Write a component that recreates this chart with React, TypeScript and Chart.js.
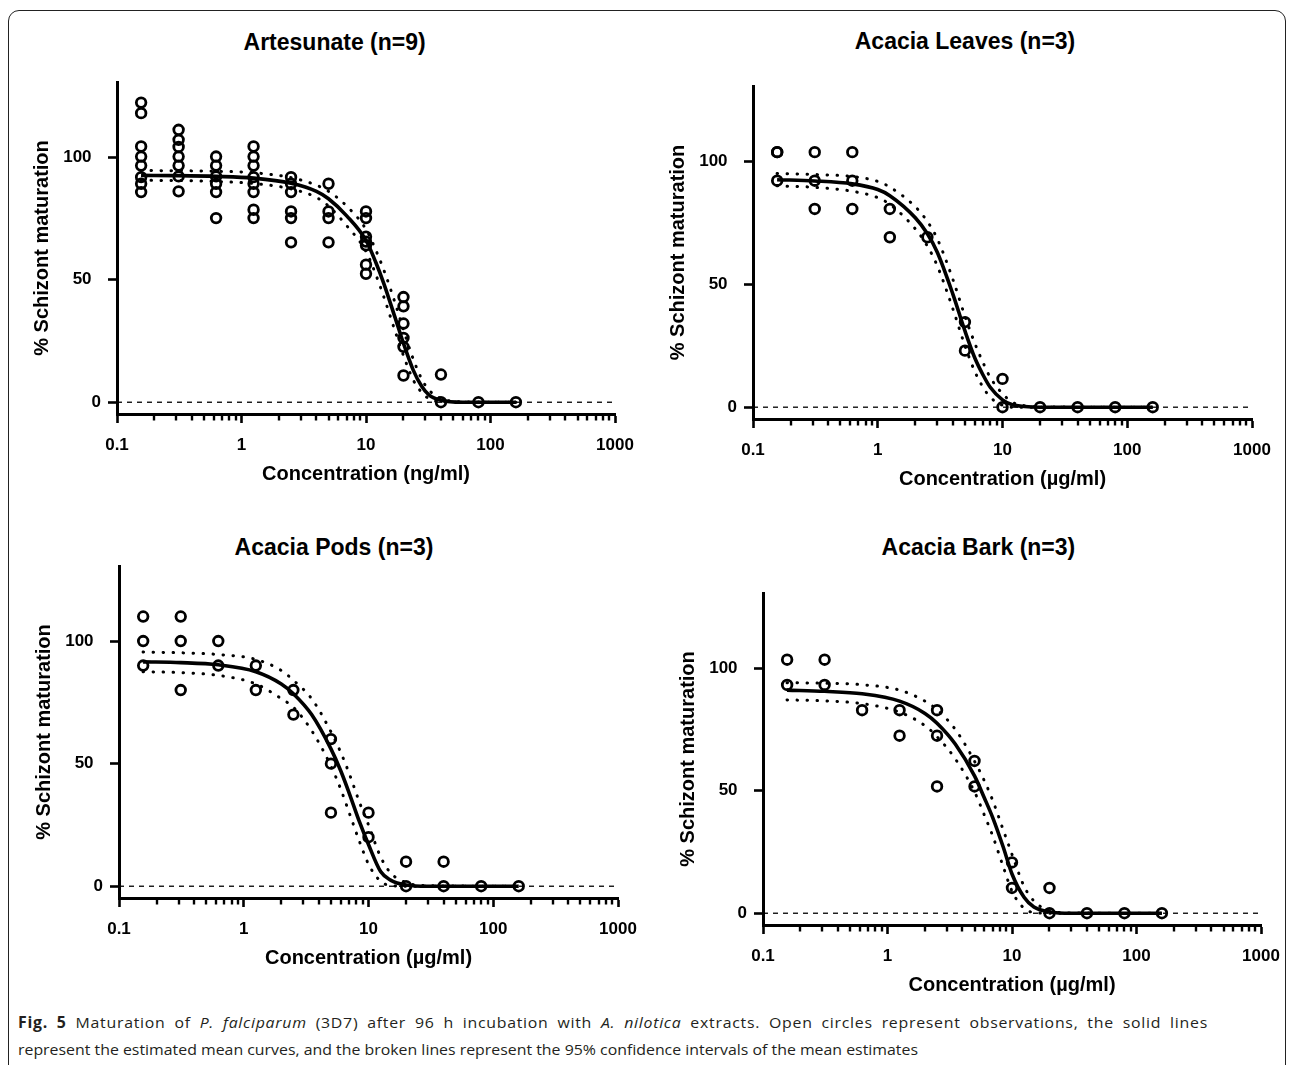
import React, { useEffect, useLayoutEffect, useRef } from 'react';
import { Chart, registerables } from 'chart.js';

Chart.register(...registerables);

// ---------------- data ----------------
const CONC = [0.15625, 0.3125, 0.625, 1.25, 2.5, 5, 10, 20, 40, 80, 160];

const X_MAJOR = [0.1, 1, 10, 100, 1000];
const X_TICK_LABELS = ['0.1', '1', '10', '100', '1000'];
const X_MINOR_MULT = [2, 3, 4, 5, 6, 7, 8, 9];
const Y_TICKS = [0, 50, 100];
const Y_TICK_LABELS = ['0', '50', '100'];

const TITLES = ['Artesunate (n=9)', 'Acacia Leaves (n=3)', 'Acacia Pods (n=3)', 'Acacia Bark (n=3)'];
const X_TITLES = ['Concentration (ng/ml)', 'Concentration (µg/ml)', 'Concentration (µg/ml)', 'Concentration (µg/ml)'];
const Y_TITLE = '% Schizont maturation';

// Artesunate observations, one list per concentration
const ART_OBS = [
  [122.2, 117.9, 104.3, 100.2, 96.5, 91.8, 89.1, 85.7],
  [111.1, 107.0, 104.1, 100.2, 96.5, 92.1, 86.0],
  [100.2, 96.5, 92.1, 89.1, 85.7, 75.1],
  [104.3, 100.2, 96.5, 91.8, 89.1, 85.7, 78.5, 75.1],
  [91.8, 89.1, 85.7, 77.8, 75.1, 65.2],
  [89.1, 77.8, 75.1, 65.2],
  [77.8, 75.1, 67.5, 65.5, 64, 56.1, 52.4],
  [42.9, 39.1, 32.1, 26.2, 22.6, 10.9],
  [11.3, 0],
  [0],
  [0],
];
const ART_CURVE_X = [0.156, 0.3125, 0.625, 1.25, 2.5, 4, 5, 7, 10, 12, 14, 17, 20, 24, 28, 32, 40, 60, 160];
const ART_FIT = [92.5, 92.4, 92.1, 91.4, 89.3, 86, 83, 76, 66, 57, 48, 35, 24, 13, 6.5, 3, 0.8, 0, 0];
const ART_UPPER = [94.5, 94.4, 94.2, 93.6, 91.6, 88.5, 86, 80, 70.5, 62, 53.5, 41, 29.5, 17.5, 9.5, 5, 1.5, 0.2, 0];
const ART_LOWER = [90.5, 90.4, 90, 89.2, 87, 83.5, 80, 72, 61.5, 52, 42.5, 29.5, 19, 9, 4, 1.5, 0.2, 0, 0];

// Acacia leaves
const LEAVES_OBS = [
  [103.7, 103.7, 92.1],
  [103.7, 92.1, 80.6],
  [103.7, 92.1, 80.6],
  [80.6, 69.1],
  [69.1],
  [34.6, 23.0],
  [11.5, 0],
  [0],
  [0],
  [0],
  [0],
];
const LEAVES_CURVE_X = [0.156, 0.3125, 0.625, 1, 1.25, 2, 2.5, 3, 4, 5, 6, 7, 8, 10, 12, 15, 20, 160];
const LEAVES_FIT = [92.5, 92, 90.8, 88.5, 86, 77, 70.5, 63, 46, 31, 20, 13, 8, 3, 1, 0.3, 0, 0];
const LEAVES_UPPER = [95, 94.6, 93.8, 91.8, 89.5, 81.5, 75.5, 68.5, 52, 37, 26, 18, 12, 5.5, 2, 0.6, 0.1, 0];
const LEAVES_LOWER = [90, 89.4, 87.8, 85.2, 82.5, 72.5, 65.5, 57.5, 40, 25, 14.5, 8, 4, 0.8, 0, 0, 0, 0];

// Acacia pods
const PODS_OBS = [
  [110, 100, 90],
  [110, 100, 80],
  [100, 90],
  [90, 80],
  [80, 70],
  [60, 50, 30],
  [30, 20],
  [10, 0],
  [10, 0],
  [0],
  [0],
];
const PODS_CURVE_X = [0.156, 0.3125, 0.625, 1.25, 2, 2.5, 3.5, 5, 6, 7, 8.5, 10, 12.5, 15, 20, 30, 160];
const PODS_FIT = [91.5, 91.2, 90.3, 87.5, 82.5, 78.5, 70, 56, 47, 38, 26, 17, 6, 2.5, 0.5, 0, 0];
const PODS_UPPER = [95.5, 95.2, 94.5, 92.5, 88, 84, 76.5, 63, 54.5, 46, 34, 25, 12, 5.5, 1.5, 0.2, 0];
const PODS_LOWER = [87.5, 87.1, 86, 82.5, 76.5, 73, 63.5, 49, 39.5, 30, 18, 9, 2, 0.3, 0, 0, 0];

// Acacia bark
const BARK_OBS = [
  [103.4, 93.1],
  [103.4, 93.1],
  [82.8],
  [82.8, 72.4],
  [82.8, 72.4, 51.7],
  [62.1, 51.7],
  [20.7, 10.3],
  [10.3, 0],
  [0],
  [0],
  [0],
];
const BARK_CURVE_X = [0.156, 0.3125, 0.625, 1.25, 2, 2.5, 3.5, 5, 6, 7, 8.5, 10, 12.5, 15, 20, 30, 160];
const BARK_FIT = [91, 90.5, 89.5, 86.5, 81.5, 77.5, 69, 56, 47, 39, 27, 16, 6.5, 2.5, 0.5, 0, 0];
const BARK_UPPER = [94, 93.8, 93.2, 91, 86.5, 83, 75, 62, 54, 46, 34, 24, 11, 5, 1, 0.1, 0];
const BARK_LOWER = [87, 86.6, 85.5, 82, 76.5, 72, 63, 49.5, 40, 31.5, 19, 9, 2, 0.3, 0, 0, 0];

// ---------------- layout / style ----------------
const FONT = '"Liberation Sans", Arial, Helvetica, sans-serif';
const CAPTION_FONT = '"Open Sans", "Noto Sans", sans-serif';
const Y_MIN = -4.8;
const Y_MAX = 130.6;
const YW = 110;
const XH = 80;
const PAD_T = 14;
const PAD_R = 30;

type Area = { l: number; t: number; r: number; b: number };
type PanelDef = {
  title: string;
  xTitle: string;
  obs: number[][];
  curveX: number[];
  fit: number[];
  upper: number[];
  lower: number[];
  area: Area;
  titlePos: { x: number; y: number };
};

const PANELS: PanelDef[] = [
  { title: TITLES[0], xTitle: X_TITLES[0], obs: ART_OBS, curveX: ART_CURVE_X, fit: ART_FIT, upper: ART_UPPER, lower: ART_LOWER,
    area: { l: 117, t: 82, r: 615, b: 414 }, titlePos: { x: 334.6, y: 41.5 } },
  { title: TITLES[1], xTitle: X_TITLES[1], obs: LEAVES_OBS, curveX: LEAVES_CURVE_X, fit: LEAVES_FIT, upper: LEAVES_UPPER, lower: LEAVES_LOWER,
    area: { l: 753, t: 86, r: 1252, b: 419 }, titlePos: { x: 965, y: 41 } },
  { title: TITLES[2], xTitle: X_TITLES[2], obs: PODS_OBS, curveX: PODS_CURVE_X, fit: PODS_FIT, upper: PODS_UPPER, lower: PODS_LOWER,
    area: { l: 119, t: 566, r: 618, b: 898 }, titlePos: { x: 334, y: 546.7 } },
  { title: TITLES[3], xTitle: X_TITLES[3], obs: BARK_OBS, curveX: BARK_CURVE_X, fit: BARK_FIT, upper: BARK_UPPER, lower: BARK_LOWER,
    area: { l: 763, t: 593, r: 1261, b: 925 }, titlePos: { x: 978.4, y: 546.7 } },
];

function buildXTicks() {
  const ticks: { value: number; major: boolean }[] = [];
  for (let i = 0; i < X_MAJOR.length; i++) {
    ticks.push({ value: X_MAJOR[i], major: true });
    if (i < X_MAJOR.length - 1) {
      for (const m of X_MINOR_MULT) ticks.push({ value: m * X_MAJOR[i], major: false });
    }
  }
  return ticks;
}

const minorTickPlugin = {
  id: 'minorTicks',
  afterDraw(chart: any) {
    const xs = chart.scales.x;
    const ctx = chart.ctx;
    const y0 = chart.chartArea.bottom;
    ctx.save();
    ctx.strokeStyle = '#000';
    ctx.lineWidth = 2.4;
    for (const t of xs.ticks) {
      if (t.major) continue;
      const px = Math.round(xs.getPixelForValue(t.value));
      ctx.beginPath();
      ctx.moveTo(px, y0 + 1);
      ctx.lineTo(px, y0 + 6.5);
      ctx.stroke();
    }
    ctx.restore();
  },
};

function ChartPanel({ p }: { p: PanelDef }) {
  const ref = useRef<HTMLCanvasElement>(null);
  const W = p.area.r - p.area.l + YW + PAD_R;
  const H = p.area.b - p.area.t + PAD_T + XH;

  useEffect(() => {
    const obsPts = p.obs.flatMap((col, i) => col.map((v) => ({ x: CONC[i], y: v })));
    const line = (ys: number[]) => p.curveX.map((x, i) => ({ x, y: ys[i] }));
    const tickFont = { family: FONT, size: 17, weight: 'bold' as const };
    const titleFont = { family: FONT, size: 20, weight: 'bold' as const };

    const chart = new Chart(ref.current as HTMLCanvasElement, {
      type: 'scatter',
      data: {
        datasets: [
          {
            data: obsPts,
            showLine: false,
            pointStyle: 'circle',
            pointRadius: 4.8,
            pointHoverRadius: 4.8,
            pointBorderWidth: 2.8,
            pointBorderColor: '#000',
            pointBackgroundColor: 'rgba(0,0,0,0)',
          },
          {
            data: line(p.fit),
            showLine: true,
            borderColor: '#000',
            borderWidth: 3.6,
            pointRadius: 0,
            cubicInterpolationMode: 'monotone',
          },
          {
            data: line(p.upper),
            showLine: true,
            borderColor: '#000',
            borderWidth: 3,
            borderDash: [0.5, 9.5],
            borderCapStyle: 'round',
            pointRadius: 0,
            cubicInterpolationMode: 'monotone',
          },
          {
            data: line(p.lower),
            showLine: true,
            borderColor: '#000',
            borderWidth: 3,
            borderDash: [0.5, 9.5],
            borderCapStyle: 'round',
            pointRadius: 0,
            cubicInterpolationMode: 'monotone',
          },
          {
            data: [
              { x: X_MAJOR[0], y: 0 },
              { x: X_MAJOR[X_MAJOR.length - 1], y: 0 },
            ],
            showLine: true,
            borderColor: '#000',
            borderWidth: 1.3,
            borderDash: [5, 5],
            pointRadius: 0,
          },
        ] as any,
      },
      options: {
        animation: false,
        responsive: false,
        events: [],
        layout: { padding: { left: 0, top: PAD_T, right: PAD_R, bottom: 0 } },
        plugins: {
          legend: { display: false },
          tooltip: { enabled: false },
          title: { display: false },
        },
        scales: {
          x: {
            type: 'logarithmic',
            position: 'bottom',
            min: X_MAJOR[0],
            max: X_MAJOR[X_MAJOR.length - 1],
            afterBuildTicks: (s: any) => {
              s.ticks = buildXTicks();
            },
            afterFit: (s: any) => {
              s.height = XH;
              s.paddingLeft = 0;
              s.paddingRight = 0;
            },
            ticks: {
              autoSkip: false,
              maxRotation: 0,
              minRotation: 0,
              padding: 12.5,
              color: '#000',
              font: tickFont,
              callback: (v: any) => {
                const k = X_MAJOR.indexOf(Number(v));
                return k >= 0 ? X_TICK_LABELS[k] : '';
              },
            },
            grid: {
              display: true,
              drawOnChartArea: false,
              drawTicks: true,
              tickLength: 9,
              tickWidth: 2.6,
              tickColor: (c: any) => (c.tick && c.tick.major ? '#000' : 'rgba(0,0,0,0)'),
            },
            border: { display: true, color: '#000', width: 3 },
            title: {
              display: true,
              text: p.xTitle,
              color: '#000',
              font: titleFont,
              padding: { top: 0, bottom: 7.5 },
            },
          },
          y: {
            type: 'linear',
            min: Y_MIN,
            max: Y_MAX,
            afterBuildTicks: (s: any) => {
              s.ticks = Y_TICKS.map((v) => ({ value: v }));
            },
            afterFit: (s: any) => {
              s.width = YW;
              s.paddingTop = 0;
              s.paddingBottom = 0;
            },
            ticks: {
              padding: 7,
              color: '#000',
              font: tickFont,
              callback: (v: any) => {
                const k = Y_TICKS.indexOf(Number(v));
                if (k < 0) return '';
                return Y_TICKS[k] === 0 ? Y_TICK_LABELS[k] : Y_TICK_LABELS[k] + '  ';
              },
            },
            grid: {
              display: true,
              drawOnChartArea: false,
              drawTicks: true,
              tickLength: 9,
              tickWidth: 2.6,
              tickColor: '#000',
            },
            border: { display: true, color: '#000', width: 3 },
            title: {
              display: true,
              text: Y_TITLE,
              color: '#000',
              font: titleFont,
              padding: { top: 23, bottom: 0 },
            },
          },
        },
      } as any,
      plugins: [minorTickPlugin],
    });
    return () => chart.destroy();
  }, [p]);

  return (
    <canvas
      ref={ref}
      width={W}
      height={H}
      style={{ position: 'absolute', left: p.area.l - YW, top: p.area.t - PAD_T, width: W, height: H }}
    />
  );
}

// Caption: justified first line, natural last line; both share one horizontal scale
function Caption() {
  const l1 = useRef<HTMLDivElement>(null);
  const l2 = useRef<HTMLDivElement>(null);
  const LEFT = 18;
  const W1 = 1190;
  const W2 = 900;
  useLayoutEffect(() => {
    const a = l1.current;
    const b = l2.current;
    if (!a || !b) return;
    b.style.transform = 'none';
    const w2 = b.getBoundingClientRect().width;
    const s = w2 > 0 ? W2 / w2 : 1;
    b.style.transform = `scaleX(${s})`;
    a.style.transform = 'none';
    a.style.letterSpacing = '0px';
    a.style.width = 'auto';
    const w1 = a.getBoundingClientRect().width;
    const target = W1 / s;
    const extra = target - w1;
    const n = (a.textContent || '').length || 1;
    if (extra > 0) a.style.letterSpacing = `${(0.55 * extra) / n}px`;
    a.style.width = `${target}px`;
    a.style.transform = `scaleX(${s})`;
  }, []);
  const base: React.CSSProperties = {
    position: 'absolute',
    left: LEFT,
    whiteSpace: 'nowrap',
    transformOrigin: 'left center',
    font: `400 15.3px ${CAPTION_FONT}`,
    lineHeight: '20px',
    color: '#231f20',
  };
  return (
    <>
      <div ref={l1} style={{ ...base, top: 1011.7, textAlign: 'justify', textAlignLast: 'justify' as any }}>
        <b>Fig. 5</b> Maturation of <i>P. falciparum</i> (3D7) after 96 h incubation with <i>A. nilotica</i> extracts. Open
        circles represent observations, the solid lines
      </div>
      <div ref={l2} style={{ ...base, top: 1039.3 }}>
        represent the estimated mean curves, and the broken lines represent the 95% confidence intervals of the mean estimates
      </div>
    </>
  );
}

export default function App() {
  return (
    <div
      style={{
        position: 'fixed',
        left: 0,
        top: 0,
        width: 1293,
        height: 1065,
        overflow: 'hidden',
        background: '#fff',
      }}
    >
      <div
        style={{
          position: 'absolute',
          left: 8,
          top: 10,
          width: 1278,
          height: 1100,
          border: '1.6px solid #222',
          borderRadius: 11,
          boxSizing: 'border-box',
        }}
      />
      {PANELS.map((p, i) => (
        <React.Fragment key={i}>
          <div
            style={{
              position: 'absolute',
              left: p.titlePos.x,
              top: p.titlePos.y,
              transform: 'translate(-50%, -50%)',
              font: `bold 23px ${FONT}`,
              lineHeight: 1,
              whiteSpace: 'nowrap',
              color: '#000',
            }}
          >
            {p.title}
          </div>
          <ChartPanel p={p} />
        </React.Fragment>
      ))}
      <Caption />
    </div>
  );
}
